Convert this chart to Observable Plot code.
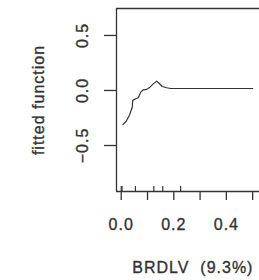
<!DOCTYPE html>
<html><head><meta charset="utf-8">
<script src="https://cdn.jsdelivr.net/npm/d3@7"></script>
<script src="https://cdn.jsdelivr.net/npm/@observablehq/plot@0.6"></script>
<style>body{margin:0;background:#fff;} svg{display:block;}</style>
</head><body><div id="chart"></div>
<script>
const lineX = [0.006, 0.019, 0.032, 0.042, 0.044, 0.055, 0.065, 0.074, 0.084, 0.097, 0.109, 0.122, 0.135, 0.144, 0.156, 0.173, 0.188, 0.3, 0.5, 0.7, 1.0];
const lineY = [-0.31, -0.28, -0.22, -0.15, -0.09, -0.075, -0.066, -0.015, 0.006, 0.01, 0.03, 0.06, 0.085, 0.066, 0.036, 0.025, 0.018, 0.018, 0.018, 0.018, 0.018];
const rugX = [0.0, 0.003, 0.054, 0.124, 0.158, 0.226];
const xTicks = [0, 0.1, 0.2, 0.3, 0.4, 0.5];
const xTickLabels = ["0.0", "0.2", "0.4"];
const xLabelValues = [0, 0.2, 0.4];
const yTicks = [-0.5, 0, 0.5];
const yTickLabels = ["\u22120.5", "0.0", "0.5"];
const xDomain = [-0.018, 0.526];
const yDomain = [-0.918, 0.745];
const xTitle = "BRDLV  (9.3%)";
const yTitle = "fitted function";

const line = lineX.map((x, i) => ({x, y: lineY[i]}));
const ink = "#333";
const font = "'Liberation Sans', Arial, sans-serif";
const txt = {fontSize: 16, fill: ink, stroke: ink, strokeWidth: 0.35};

const chart = Plot.plot({
  width: 259, height: 280,
  marginLeft: 116, marginRight: 0, marginTop: 8, marginBottom: 89,
  style: {fontFamily: font, color: ink, background: "#fff", letterSpacing: "1px"},
  x: {domain: xDomain},
  y: {domain: yDomain},
  marks: [
    Plot.line(line.filter(d => d.x <= xDomain[1] + 0.01), {x: "x", y: "y", stroke: ink, strokeWidth: 1.2}),
    Plot.ruleX([xDomain[0]], {y1: yDomain[0], y2: yDomain[1], stroke: ink, strokeWidth: 1.3}),
    Plot.ruleY([yDomain[0], yDomain[1]], {x1: xDomain[0], x2: xDomain[1], stroke: ink, strokeWidth: 1.3}),
    Plot.ruleX(rugX, {x: d => d, y1: yDomain[0], y2: yDomain[0] + 0.045, stroke: ink, strokeWidth: 1.2}),
    Plot.axisX({ticks: xTicks, tickSize: 9, tickFormat: () => "", label: null, stroke: ink, strokeWidth: 1.3}),
    Plot.axisY({ticks: yTicks, tickSize: 12, tickFormat: () => "", label: null, stroke: ink, strokeWidth: 1.3}),
    Plot.text(xLabelValues, {x: d => d, text: (d, i) => xTickLabels[i], frameAnchor: "bottom", dy: 33, lineAnchor: "middle", ...txt}),
    Plot.text(yTicks, {y: d => d, text: (d, i) => yTickLabels[i], frameAnchor: "left", dx: -34, rotate: -90, textAnchor: "middle", lineAnchor: "middle", ...txt}),
    Plot.text([xTitle], {x: 0.042, text: d => d, frameAnchor: "bottom", dy: 76, textAnchor: "start", lineAnchor: "middle", ...txt, style: "letter-spacing:1.5px"}),
    Plot.text([yTitle], {text: d => d, frameAnchor: "left", dx: -78, rotate: -90, textAnchor: "middle", lineAnchor: "middle", ...txt})
  ]
});
document.getElementById("chart").append(chart);
</script>
</body></html>
